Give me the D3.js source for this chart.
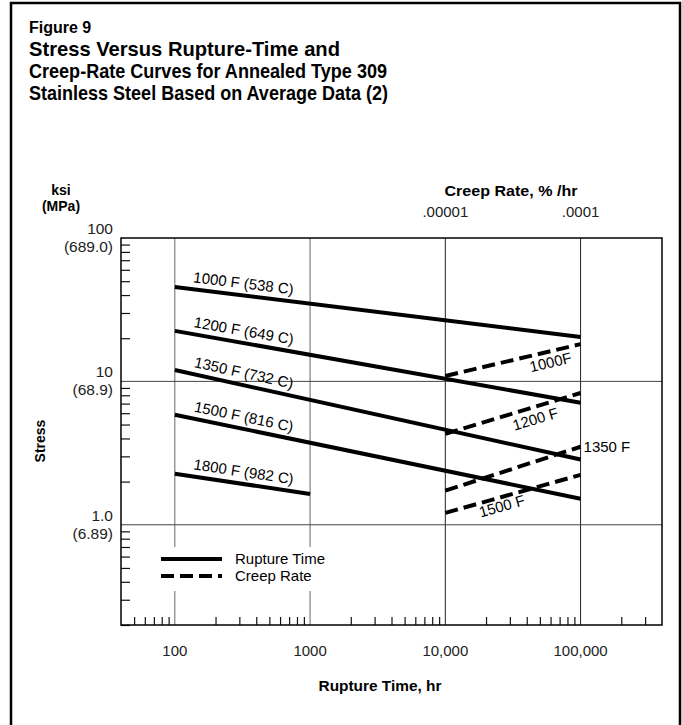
<!DOCTYPE html>
<html>
<head>
<meta charset="utf-8">
<script src="https://cdn.jsdelivr.net/npm/d3@7"></script>
<style>
  body { margin: 0; background: #fff; }
  svg { display: block; font-family: "Liberation Sans", Arial, Helvetica, sans-serif; }
</style>
</head>
<body>
<svg id="chart" width="682" height="725"></svg>
<script>
// rupture-time curves (solid)
var ruptureLabels = ["1000 F (538 C)", "1200 F (649 C)", "1350 F (732 C)", "1500 F (816 C)", "1800 F (982 C)"]
var ruptureStartHr = [100, 100, 100, 100, 100]
var ruptureEndHr = [100000, 100000, 100000, 100000, 1000]
var stressStart = [45.5, 22.5, 12.0, 5.85, 2.27]
var stressEnd = [20.4, 7.1, 2.85, 1.52, 1.64]

// creep-rate curves (dashed), %/hr
var creepLabels = ["1000F", "1200 F", "1350 F", "1500 F"]
var creepRates = [0.00001, 0.0001]
var creepStress = [[10.9, 18.2], [4.3, 8.3], [1.73, 3.5], [1.21, 2.23]]

// axis labels
var hourTicks = [100, 1000, 10000, 100000]
var hourTickLabels = ["100", "1000", "10,000", "100,000"]
var stressTicks = [100, 10, 1]
var ksiLabels = ["100", "10", "1.0"]
var mpaLabels = ["(689.0)", "(68.9)", "(6.89)"]
var creepTicks = [0.00001, 0.0001]
var creepTickLabels = [".00001", ".0001"]

var svg = d3.select('#chart')

var pL = 121, pR = 662, pT = 238, pB = 625

var x = d3.scaleLog().domain([40, 400000]).range([pL, pR])
var xc = d3.scaleLog().domain([4e-8, 4e-4]).range([pL, pR])
var y = d3.scaleLog().domain([0.2, 100]).range([pB, pT])

// outer frame
svg.append('rect')
  .attr('x', 11).attr('y', 3).attr('width', 669).attr('height', 740)
  .attr('fill', 'none').attr('stroke', '#000').attr('stroke-width', 2.5)

// title
svg.append('text').attr('x', 29).attr('y', 33)
  .attr('font-size', 16).attr('font-weight', 'bold').text('Figure 9')

var titleLines = ["Stress Versus Rupture-Time and", "Creep-Rate Curves for Annealed Type 309", "Stainless Steel Based on Average Data (2)"]
var titleLen = [311, 358, 359]
svg.selectAll('.title').data(titleLines).enter().append('text')
  .attr('class', 'title')
  .attr('x', 29)
  .attr('y', function (d, i) { return 56 + i * 22 })
  .attr('font-size', 21).attr('font-weight', 'bold')
  .attr('textLength', function (d, i) { return titleLen[i] })
  .attr('lengthAdjust', 'spacingAndGlyphs')
  .text(function (d) { return d })

var plot = svg.append('g')

// grid
plot.selectAll('.vgrid').data(hourTicks).enter().append('line')
  .attr('x1', x).attr('x2', x)
  .attr('y1', pT).attr('y2', pB)
  .attr('stroke', function (d) { return d < 10000 ? '#666' : '#222' }).attr('stroke-width', 1)

plot.selectAll('.hgrid').data([10, 1]).enter().append('line')
  .attr('x1', pL).attr('x2', pR)
  .attr('y1', y).attr('y2', y)
  .attr('stroke', '#444').attr('stroke-width', 1)

// minor ticks
var minorY = []
;[0.1, 1, 10].forEach(function (b) { d3.range(2, 10).forEach(function (m) { if (b * m >= 0.2) minorY.push(b * m) }) })
var minorX = []
;[10, 100, 1000, 10000, 100000].forEach(function (b) { d3.range(2, 10).forEach(function (m) {
  var v = b * m
  if (v > 40 && v < 400000) minorX.push(v)
}) })

plot.append('g').attr('transform', 'translate(' + pL + ',0)')
  .call(d3.axisLeft(y).tickValues(minorY).tickSize(-9).tickFormat(''))
  .call(function (g) { g.select('.domain').remove() })
  .selectAll('line').attr('stroke', '#111').attr('stroke-width', 1.2)

plot.append('g').attr('transform', 'translate(0,' + pB + ')')
  .call(d3.axisBottom(x).tickValues(minorX).tickSize(-8).tickFormat(''))
  .call(function (g) { g.select('.domain').remove() })
  .selectAll('line').attr('stroke', '#111').attr('stroke-width', 1.2)

// plot border
plot.append('rect')
  .attr('x', pL).attr('y', pT)
  .attr('width', pR - pL).attr('height', pB - pT)
  .attr('fill', 'none').attr('stroke', '#000').attr('stroke-width', 1.5)

// legend box knocks out the grid behind it
svg.append('rect').attr('x', 150).attr('y', 547).attr('width', 170).attr('height', 44).attr('fill', '#fff')

// rupture lines
var rIdx = d3.range(ruptureLabels.length)
plot.selectAll('.rupture').data(rIdx).enter().append('line')
  .attr('x1', function (i) { return x(ruptureStartHr[i]) })
  .attr('y1', function (i) { return y(stressStart[i]) })
  .attr('x2', function (i) { return x(ruptureEndHr[i]) })
  .attr('y2', function (i) { return y(stressEnd[i]) })
  .attr('stroke', '#000').attr('stroke-width', 4)

function angleOf(x1, y1, x2, y2) { return Math.atan2(y2 - y1, x2 - x1) * 180 / Math.PI }

plot.selectAll('.rlabel').data(rIdx).enter().append('text')
  .attr('font-size', 15)
  .attr('transform', function (i) {
    var x1 = x(ruptureStartHr[i]), y1 = y(stressStart[i])
    var x2 = x(ruptureEndHr[i]), y2 = y(stressEnd[i])
    var px = 192, py = y1 + (px - x1) * (y2 - y1) / (x2 - x1)
    return 'translate(' + px + ',' + py + ') rotate(' + angleOf(x1, y1, x2, y2) + ')'
  })
  .attr('dy', -7)
  .text(function (i) { return ruptureLabels[i] })

// creep lines
var cIdx = d3.range(creepLabels.length)
plot.selectAll('.creep').data(cIdx).enter().append('line')
  .attr('x1', xc(creepRates[0]))
  .attr('y1', function (i) { return y(creepStress[i][0]) })
  .attr('x2', xc(creepRates[1]))
  .attr('y2', function (i) { return y(creepStress[i][1]) })
  .attr('stroke', '#000').attr('stroke-width', 4)
  .attr('stroke-dasharray', '13,6')

// creep labels: position along the line (fraction) and offset below
var creepLabelAt = [0.76, 0.64, null, 0.4]
var creepLabelDy = [16, 17, 0, 14]
plot.selectAll('.clabel').data(cIdx).enter().append('text')
  .attr('font-size', 15)
  .attr('text-anchor', function (i) { return creepLabelAt[i] === null ? 'start' : 'middle' })
  .attr('transform', function (i) {
    var x1 = xc(creepRates[0]), y1 = y(creepStress[i][0])
    var x2 = xc(creepRates[1]), y2 = y(creepStress[i][1])
    if (creepLabelAt[i] === null) return 'translate(' + (x2 + 3) + ',' + (y2 + 5) + ')'
    var t = creepLabelAt[i]
    var px = x1 + t * (x2 - x1), py = y1 + t * (y2 - y1)
    return 'translate(' + px + ',' + py + ') rotate(' + angleOf(x1, y1, x2, y2) + ')'
  })
  .attr('dy', function (i) { return creepLabelDy[i] })
  .text(function (i) { return creepLabels[i] })

// stress labels
svg.selectAll('.ksi').data(stressTicks).enter().append('text')
  .attr('x', 113).attr('y', function (d) { return y(d) - 4 })
  .attr('text-anchor', 'end').attr('font-size', 15.5).attr('fill', '#222')
  .text(function (d, i) { return ksiLabels[i] })
svg.selectAll('.mpa').data(stressTicks).enter().append('text')
  .attr('x', 113).attr('y', function (d) { return y(d) + 14 })
  .attr('text-anchor', 'end').attr('font-size', 15.5).attr('fill', '#222')
  .text(function (d, i) { return mpaLabels[i] })

svg.append('text').attr('x', 61).attr('y', 195).attr('text-anchor', 'middle')
  .attr('font-size', 14).attr('font-weight', 'bold').text('ksi')
svg.append('text').attr('x', 61).attr('y', 211).attr('text-anchor', 'middle')
  .attr('font-size', 14).attr('font-weight', 'bold').text('(MPa)')
svg.append('text').attr('transform', 'translate(45,441) rotate(-90)').attr('text-anchor', 'middle')
  .attr('font-size', 14).attr('font-weight', 'bold').text('Stress')

// hour labels
svg.selectAll('.hr').data(hourTicks).enter().append('text')
  .attr('x', x).attr('y', 656)
  .attr('text-anchor', 'middle').attr('font-size', 15).attr('fill', '#222')
  .text(function (d, i) { return hourTickLabels[i] })
svg.append('text').attr('x', 380).attr('y', 691).attr('text-anchor', 'middle')
  .attr('font-size', 15).attr('font-weight', 'bold')
  .attr('textLength', 123).attr('lengthAdjust', 'spacingAndGlyphs')
  .text('Rupture Time, hr')

// creep rate top labels
svg.selectAll('.cr').data(creepTicks).enter().append('text')
  .attr('x', xc).attr('y', 217)
  .attr('text-anchor', 'middle').attr('font-size', 15).attr('fill', '#222')
  .text(function (d, i) { return creepTickLabels[i] })
svg.append('text').attr('x', 511).attr('y', 196).attr('text-anchor', 'middle')
  .attr('font-size', 15).attr('font-weight', 'bold')
  .attr('textLength', 133).attr('lengthAdjust', 'spacingAndGlyphs')
  .text('Creep Rate, % /hr')

// legend
var legend = svg.append('g')
legend.append('line').attr('x1', 161).attr('x2', 222).attr('y1', 559).attr('y2', 559)
  .attr('stroke', '#000').attr('stroke-width', 4)
legend.append('line').attr('x1', 161).attr('x2', 222).attr('y1', 576).attr('y2', 576)
  .attr('stroke', '#000').attr('stroke-width', 4).attr('stroke-dasharray', '13,6')
legend.append('text').attr('x', 235).attr('y', 564).attr('font-size', 15).text('Rupture Time')
legend.append('text').attr('x', 235).attr('y', 581).attr('font-size', 15).text('Creep Rate')
</script>
</body>
</html>
